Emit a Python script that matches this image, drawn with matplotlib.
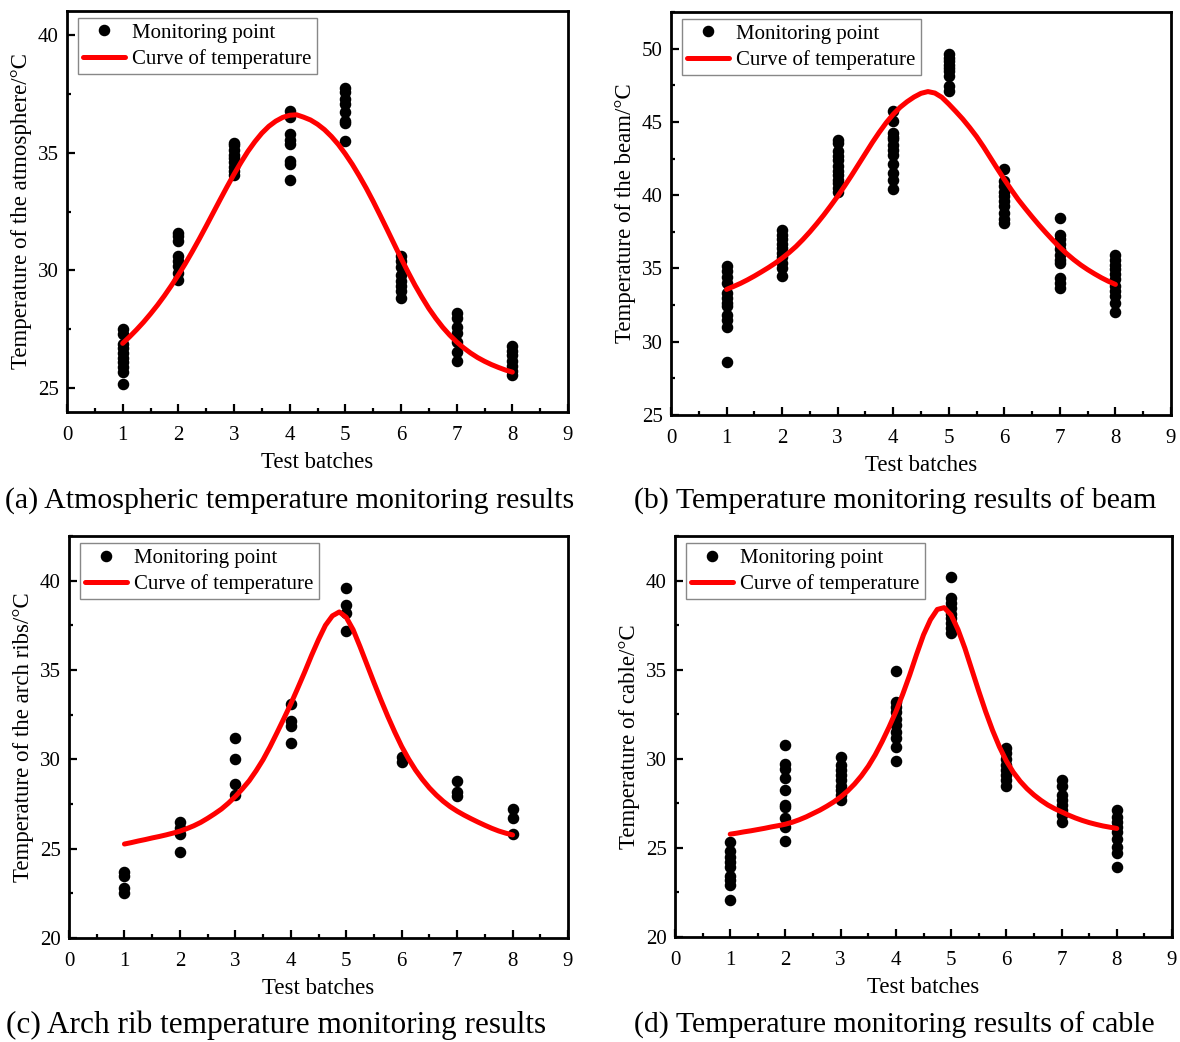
import matplotlib
matplotlib.use("Agg")
import matplotlib.pyplot as plt
from matplotlib.ticker import MultipleLocator

plt.rcParams['font.family'] = ['Liberation Serif', 'DejaVu Serif']

batches = [1, 2, 3, 4, 5, 6, 7, 8]

curve_x = [1.0, 1.125, 1.25, 1.375, 1.5, 1.625, 1.75, 1.875, 2.0, 2.125, 2.25, 2.375,
           2.5, 2.625, 2.75, 2.875, 3.0, 3.125, 3.25, 3.375, 3.5, 3.625, 3.75, 3.875,
           4.0, 4.125, 4.25, 4.375, 4.5, 4.625, 4.75, 4.875, 5.0, 5.125, 5.25, 5.375,
           5.5, 5.625, 5.75, 5.875, 6.0, 6.125, 6.25, 6.375, 6.5, 6.625, 6.75, 6.875,
           7.0, 7.125, 7.25, 7.375, 7.5, 7.625, 7.75, 7.875, 8.0]

# ---- (a) atmosphere
atm_points = [
    [27.5, 27.3, 26.9, 26.7, 26.5, 26.3, 26.1, 25.9, 25.7, 25.2],
    [31.6, 31.45, 31.25, 30.6, 30.4, 30.2, 29.9, 29.6],
    [35.4, 35.3, 35.1, 34.9, 34.75, 34.6, 34.4, 34.2, 34.05],
    [36.75, 36.5, 35.8, 35.55, 35.35, 34.65, 34.5, 33.85],
    [37.75, 37.55, 37.25, 37.05, 36.7, 36.35, 36.25, 35.5],
    [30.6, 30.4, 30.15, 29.8, 29.55, 29.35, 29.15, 28.85],
    [28.2, 28.0, 27.6, 27.35, 26.95, 26.55, 26.15],
    [26.8, 26.6, 26.4, 26.15, 25.95, 25.75, 25.55],
]
atm_curve = [26.91, 27.19, 27.49, 27.81, 28.16, 28.53, 28.93, 29.36, 29.81, 30.29, 30.80,
             31.33, 31.88, 32.44, 33.00, 33.55, 34.08, 34.58, 35.05, 35.46, 35.82, 36.11,
             36.33, 36.49, 36.58, 36.60, 36.50, 36.38, 36.20, 35.97, 35.68, 35.34, 34.94,
             34.50, 34.01, 33.49, 32.93, 32.34, 31.74, 31.13, 30.52, 29.94, 29.38, 28.87,
             28.39, 27.97, 27.59, 27.26, 26.97, 26.72, 26.50, 26.31, 26.15, 26.01, 25.89,
             25.78, 25.69]

# ---- (b) beam
beam_points = [
    [35.2, 34.8, 34.4, 34.0, 33.35, 33.0, 32.65, 32.45, 31.8, 31.5, 31.0, 28.65],
    [37.6, 37.3, 37.0, 36.7, 36.4, 36.05, 35.75, 35.4, 35.05, 34.5],
    [43.75, 43.55, 43.0, 42.65, 42.4, 42.0, 41.65, 41.4, 41.05, 40.85, 40.5, 40.2],
    [45.75, 45.05, 44.25, 44.0, 43.8, 43.45, 43.1, 42.75, 42.15, 41.5, 41.05, 40.4],
    [49.6, 49.35, 49.15, 48.9, 48.7, 48.45, 48.15, 47.45, 47.1],
    [41.8, 40.95, 40.6, 40.25, 39.95, 39.6, 39.25, 38.8, 38.35, 38.1],
    [38.45, 37.3, 37.0, 36.65, 36.3, 35.95, 35.6, 35.4, 34.35, 34.0, 33.7],
    [35.9, 35.6, 35.25, 34.95, 34.6, 34.25, 33.8, 33.45, 33.1, 32.65, 32.0],
]
beam_curve = [33.57, 33.77, 33.98, 34.22, 34.48, 34.76, 35.05, 35.36, 35.70, 36.08, 36.50,
              36.98, 37.50, 38.06, 38.65, 39.28, 39.93, 40.63, 41.35, 42.10, 42.85, 43.60,
              44.30, 44.95, 45.52, 46.00, 46.38, 46.70, 46.95, 47.07, 46.97, 46.68, 46.22,
              45.72, 45.20, 44.62, 44.00, 43.30, 42.55, 41.80, 41.07, 40.37, 39.70, 39.10,
              38.52, 37.96, 37.43, 36.92, 36.44, 36.00, 35.60, 35.24, 34.92, 34.63, 34.36,
              34.12, 33.91]

# ---- (c) arch ribs
arch_points = [
    [23.7, 23.45, 22.8, 22.5],
    [26.5, 26.15, 25.8, 24.8],
    [31.2, 30.0, 28.6, 28.0],
    [33.1, 32.15, 31.85, 30.9],
    [39.6, 38.65, 38.2, 37.2],
    [30.15, 29.85],
    [28.8, 28.15, 27.95],
    [27.2, 26.7, 25.8],
]
arch_curve = [25.26, 25.34, 25.43, 25.51, 25.60, 25.68, 25.77, 25.87, 25.98, 26.12, 26.28,
              26.47, 26.70, 26.95, 27.22, 27.55, 27.92, 28.34, 28.80, 29.36, 29.98, 30.70,
              31.48, 32.28, 33.10, 33.98, 34.88, 35.82, 36.70, 37.50, 38.03, 38.25, 37.95,
              37.25, 36.30, 35.30, 34.30, 33.33, 32.40, 31.53, 30.72, 30.02, 29.40, 28.87,
              28.40, 28.00, 27.65, 27.35, 27.10, 26.88, 26.68, 26.49, 26.31, 26.14, 25.99,
              25.87, 25.77]

# ---- (d) cable
cable_points = [
    [25.35, 24.8, 24.5, 24.2, 23.95, 23.45, 23.2, 22.9, 22.1],
    [30.8, 29.7, 29.4, 28.9, 28.25, 27.4, 27.3, 26.65, 26.2, 25.4],
    [30.1, 29.65, 29.35, 29.1, 28.8, 28.5, 28.25, 27.95, 27.7],
    [34.95, 33.2, 32.9, 32.65, 32.25, 31.9, 31.5, 31.15, 30.65, 29.85],
    [40.2, 39.0, 38.75, 38.45, 38.15, 37.9, 37.6, 37.35, 37.05],
    [30.6, 30.3, 30.0, 29.65, 29.35, 29.1, 28.8, 28.5],
    [28.8, 28.5, 27.95, 27.7, 27.4, 27.1, 26.85, 26.45],
    [27.1, 26.75, 26.45, 26.2, 25.9, 25.5, 25.05, 24.7, 23.9],
]
cable_curve = [25.77, 25.83, 25.90, 25.96, 26.03, 26.10, 26.18, 26.25, 26.33, 26.44, 26.58,
               26.74, 26.93, 27.12, 27.34, 27.58, 27.86, 28.19, 28.58, 29.04, 29.58, 30.22,
               30.96, 31.77, 32.64, 33.63, 34.70, 35.86, 36.95, 37.80, 38.38, 38.48, 38.07,
               37.25, 36.20, 35.00, 33.80, 32.65, 31.60, 30.67, 29.88, 29.25, 28.74, 28.32,
               27.97, 27.67, 27.41, 27.20, 27.02, 26.84, 26.68, 26.54, 26.42, 26.32, 26.23,
               26.16, 26.09]

ylabels = ["Temperature of the atmosphere/\u00b0C", "Temperature of the beam/\u00b0C",
           "Temperature of the arch ribs/\u00b0C", "Temperature of cable/\u00b0C"]
captions = ["(a) Atmospheric temperature monitoring results",
            "(b) Temperature monitoring results of beam",
            "(c) Arch rib temperature monitoring results",
            "(d) Temperature monitoring results of cable"]
caption_sizes = [21.5, 21.5, 22.5, 21.5]
ylims = [(24, 41), (25, 52.5), (20, 42.5), (20, 42.5)]

W, H = 1180, 1042
fig = plt.figure(figsize=(W / 100, H / 100), dpi=100)

# axes boxes in pixels: left, top, right, bottom
boxes = [(67, 11, 568, 412), (671, 12, 1171, 415), (69, 536, 568, 938), (675, 536, 1172, 937)]
caption_pos = [(290, 501), (895, 501), (276, 1025), (894, 1025)]

panels = [
    (atm_points, atm_curve),
    (beam_points, beam_curve),
    (arch_points, arch_curve),
    (cable_points, cable_curve),
]

for i, (pts, cy) in enumerate(panels):
    l, t, r, b = boxes[i]
    ax = fig.add_axes([l / W, 1 - b / H, (r - l) / W, (b - t) / H])
    xs, ys = [], []
    for bt, vals in zip(batches, pts):
        xs += [bt] * len(vals)
        ys += vals
    ax.plot(xs, ys, 'o', color='black', markersize=7.3, linestyle='none',
            label='Monitoring point', zorder=3)
    ax.plot(curve_x, cy, '-', color='#ff0000', linewidth=3.6, label='Curve of temperature',
            zorder=4, solid_joinstyle='round', solid_capstyle='round')
    ax.set_xlim(0, 9)
    ax.set_ylim(*ylims[i])
    ax.xaxis.set_major_locator(MultipleLocator(1))
    ax.xaxis.set_minor_locator(MultipleLocator(0.5))
    ax.yaxis.set_major_locator(MultipleLocator(5))
    ax.yaxis.set_minor_locator(MultipleLocator(2.5))
    ax.tick_params(which='both', direction='in', top=False, right=False,
                   width=1.6, labelsize=15)
    ax.tick_params(which='major', length=5.5)
    ax.tick_params(which='minor', length=3)
    ax.tick_params(axis='x', which='major', pad=10)
    ax.tick_params(axis='y', which='major', pad=6)
    for s in ax.spines.values():
        s.set_linewidth(2.0)
    ax.set_xlabel("Test batches", fontsize=16.5, labelpad=5)
    ax.set_ylabel(ylabels[i], fontsize=16.5, labelpad=4)
    leg = ax.legend(loc='upper left', bbox_to_anchor=(11 / (r - l), 1 - 7 / (b - t)),
                    borderaxespad=0, fontsize=15, frameon=True, fancybox=False,
                    edgecolor='#888888', framealpha=1, handlelength=2.0,
                    handletextpad=0.35, labelspacing=0.3, borderpad=0.25, numpoints=1)
    leg.get_frame().set_linewidth(1.0)
    fig.text(caption_pos[i][0] / W, 1 - caption_pos[i][1] / H, captions[i],
             ha='center', va='center', fontsize=caption_sizes[i])

fig.savefig("out.png", dpi=100)
